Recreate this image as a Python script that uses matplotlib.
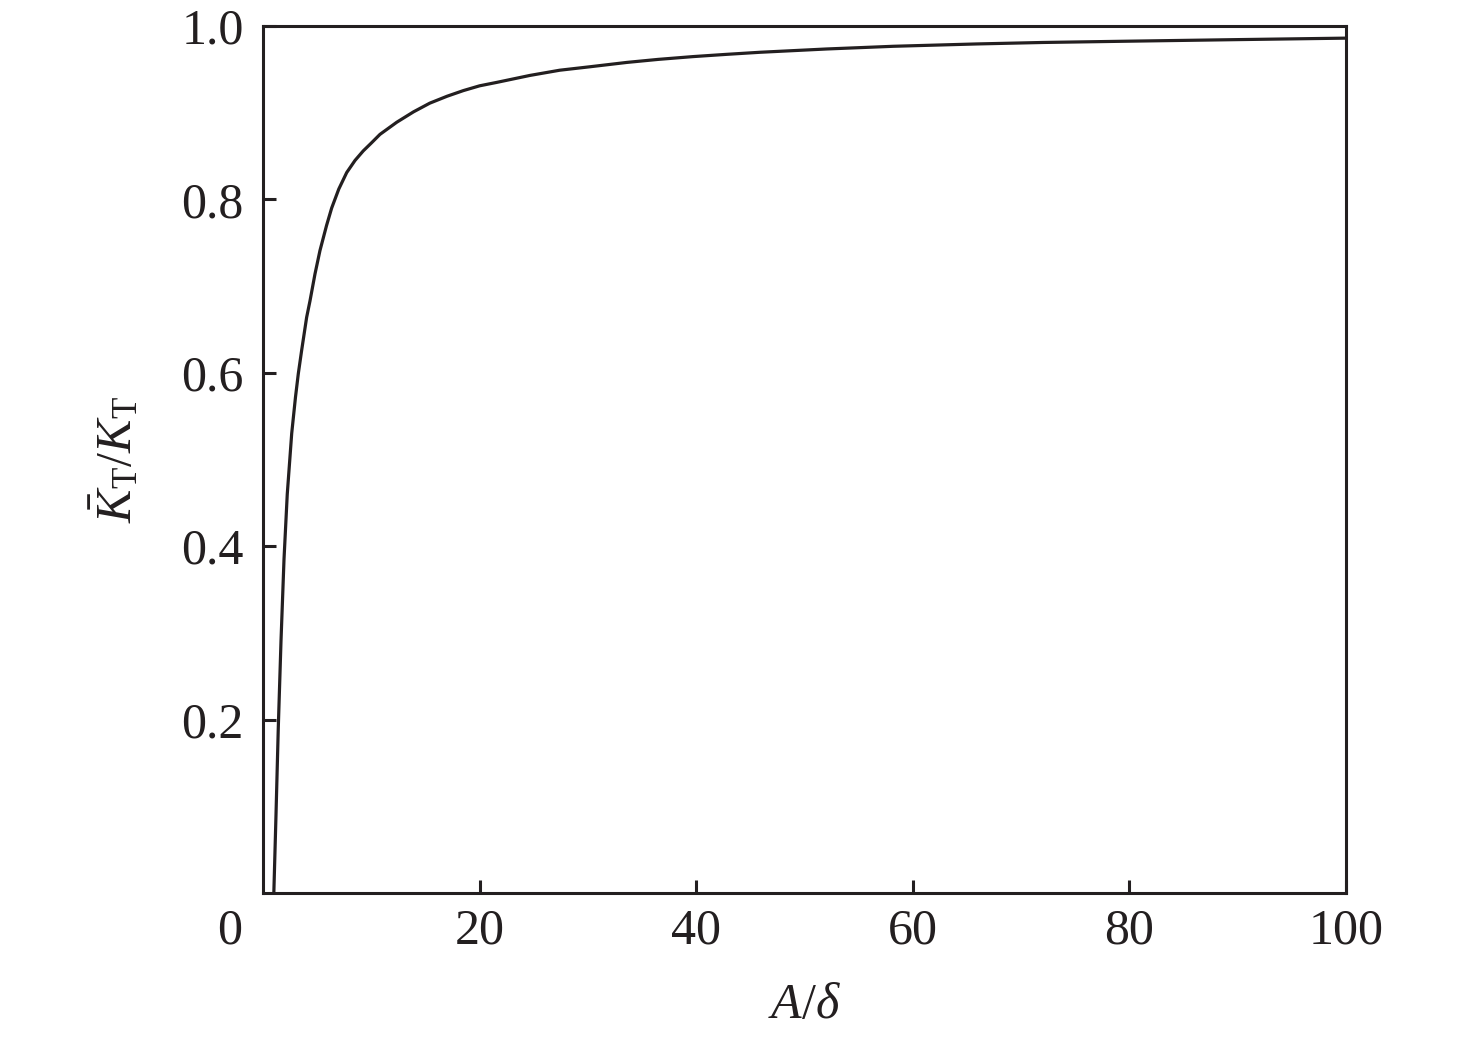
import matplotlib
matplotlib.use("Agg")
import matplotlib.pyplot as plt

# values
aDelta = [1.0, 1.2, 1.41, 1.66, 1.94, 2.24, 2.65, 3.0, 3.26, 3.57, 4.03, 4.34,
          4.8, 5.26, 5.87, 6.34, 7.0, 7.73, 8.5, 9.26, 10.0, 10.8, 12.35, 13.9,
          15.4, 17.0, 18.5, 20.0, 21.6, 24.65, 27.4, 30.2, 33.6, 36.5, 39.7, 42.8,
          45.9, 52.05, 58.2, 65.9, 72.0, 80.0, 90.0, 100.0]
ktRatio = [0.0, 0.09, 0.19, 0.29, 0.385, 0.46, 0.53, 0.572, 0.599, 0.626, 0.664, 0.683,
           0.714, 0.741, 0.770, 0.790, 0.812, 0.831, 0.845, 0.856, 0.865, 0.875, 0.889, 0.901,
           0.911, 0.919, 0.9255, 0.931, 0.935, 0.943, 0.949, 0.953, 0.958, 0.9615, 0.9647, 0.9673,
           0.9697, 0.9735, 0.9766, 0.9793, 0.981, 0.9825, 0.9843, 0.986]

xTicks = [20, 40, 60, 80, 100]
yTicks = [0.2, 0.4, 0.6, 0.8, 1.0]

ink = '#231f20'
plt.rcParams['font.family'] = ['Liberation Serif', 'DejaVu Serif']
plt.rcParams['mathtext.fontset'] = 'custom'
plt.rcParams['mathtext.rm'] = 'Liberation Serif'
plt.rcParams['mathtext.it'] = 'Liberation Serif:italic'

fig = plt.figure(figsize=(14.76, 10.42), dpi=100)
ax = fig.add_axes([263 / 1476, 1 - 893 / 1042, 1083 / 1476, 867 / 1042])

ax.plot(aDelta, ktRatio, color=ink, lw=2.3, solid_joinstyle='round')

ax.set_xlim(0, 100)
ax.set_ylim(0, 1.0)
ax.set_xticks(xTicks)
ax.set_yticks(yTicks)
ax.set_xticklabels([str(t) for t in xTicks])
ax.set_yticklabels(['%.1f' % t for t in yTicks])
ax.tick_params(direction='in', length=9.5, width=2.2, color=ink, labelcolor=ink,
               labelsize=36, top=False, right=False)
ax.tick_params(axis='x', pad=11)
ax.tick_params(axis='y', pad=14)
for s in ax.spines.values():
    s.set_linewidth(2.2)
    s.set_color(ink)

# shared origin label sits left of the corner
ax.annotate('0', xy=(0, 0), xycoords='data', xytext=(-24, -11),
            textcoords='offset points', ha='center', va='top',
            fontsize=36, color=ink)

ax.set_xlabel(r'$A/\delta$', fontsize=36, color=ink, labelpad=20)
ax.set_ylabel(r'$\bar{K}_{\mathrm{T}}/K_{\mathrm{T}}$', fontsize=36, color=ink, labelpad=28)

fig.savefig('out.png', dpi=100)
